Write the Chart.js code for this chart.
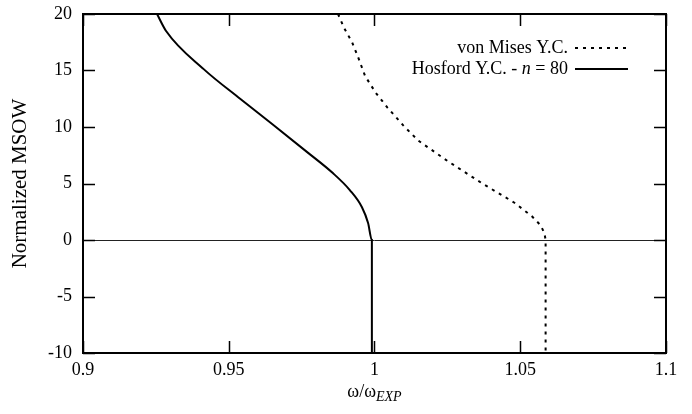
<!DOCTYPE html>
<html>
<head>
<meta charset="utf-8">
<script src="https://cdn.jsdelivr.net/npm/chart.js@4/dist/chart.umd.min.js"></script>
<style>
  html, body { margin: 0; padding: 0; background: #fff; }
  #wrap { width: 692px; height: 414px; }
</style>
</head>
<body>
<div id="wrap"><canvas id="mainChart" width="692" height="414"></canvas></div>
<script>
// data
const misesX = [0.9875, 0.9895, 0.9923, 0.9945, 0.9968, 1.0005, 1.0045, 1.0100, 1.0150, 1.0250, 1.0370, 1.0480, 1.0540, 1.0570, 1.0583, 1.0587, 1.0587];
const misesY = [20, 18.8, 17.5, 16.1, 14.5, 13.0, 11.7, 10.1, 8.8, 7.0, 5.0, 3.3, 2.1, 1.3, 0.6, 0, -10];
const hosfordX = [0.9254, 0.9285, 0.9415, 0.9539, 0.9652, 0.9768, 0.9858, 0.9916, 0.9957, 0.9978, 0.9991, 0.9991];
const hosfordY = [20, 18.5, 15.1, 12.5, 10.2, 7.8, 5.9, 4.4, 2.9, 1.5, 0, -10];
const xTicks = [0.9, 0.95, 1, 1.05, 1.1];
const yTicks = [-10, -5, 0, 5, 10, 15, 20];

const FONT = '"Liberation Serif", "Times New Roman", serif';

function toPoints(xs, ys) {
    return xs.map((x, i) => ({ x: x, y: ys[i] }));
}

// frame with inward ticks on all four sides (gnuplot look)
const framePlugin = {
    id: 'frame',
    afterDatasetsDraw(chart) {
        const { ctx, chartArea: a, scales } = chart;
        const len = 12;
        ctx.save();
        ctx.strokeStyle = '#000';
        ctx.lineWidth = 2;
        ctx.strokeRect(a.left, a.top, a.right - a.left, a.bottom - a.top);
        ctx.lineWidth = 1.5;
        ctx.beginPath();
        xTicks.forEach(v => {
            const px = Math.round(scales.x.getPixelForValue(v)) + 0.5;
            ctx.moveTo(px, a.bottom); ctx.lineTo(px, a.bottom - len);
            ctx.moveTo(px, a.top); ctx.lineTo(px, a.top + len);
        });
        yTicks.forEach(v => {
            const py = Math.round(scales.y.getPixelForValue(v)) + 0.5;
            ctx.moveTo(a.left, py); ctx.lineTo(a.left + len, py);
            ctx.moveTo(a.right, py); ctx.lineTo(a.right - len, py);
        });
        ctx.stroke();

        // x axis title with subscript
        const cx = (a.left + a.right) / 2;
        const ty = 397;
        ctx.fillStyle = '#000';
        ctx.textBaseline = 'alphabetic';
        const main = 'ω/ω';
        const sub = 'EXP';
        ctx.font = 'italic 14px ' + FONT;
        const subW = ctx.measureText(sub).width;
        ctx.font = '18px ' + FONT;
        const mainW = ctx.measureText(main).width;
        const x0 = cx - (mainW + subW) / 2;
        ctx.textAlign = 'left';
        ctx.fillText(main, x0, ty);
        ctx.font = 'italic 14px ' + FONT;
        ctx.fillText(sub, x0 + mainW, ty + 4);

        // key, top right
        const keyRight = 568;
        const sx0 = 575, sx1 = 628;
        const rows = [48, 69];
        chart.data.datasets.forEach((ds, i) => {
            const y = rows[i];
            ctx.textBaseline = 'middle';
            ctx.textAlign = 'right';
            const parts = ds.keyParts;
            let xr = keyRight;
            for (let k = parts.length - 1; k >= 0; k--) {
                ctx.font = (parts[k].italic ? 'italic ' : '') + '18px ' + FONT;
                ctx.fillText(parts[k].t, xr, y);
                xr -= ctx.measureText(parts[k].t).width;
            }
            ctx.beginPath();
            ctx.lineWidth = ds.borderWidth;
            ctx.setLineDash(ds.borderDash || []);
            ctx.moveTo(sx0, y); ctx.lineTo(sx1, y);
            ctx.stroke();
            ctx.setLineDash([]);
        });
        ctx.restore();
    }
};

const ctx = document.getElementById('mainChart').getContext('2d');
const mainChart = new Chart(ctx, {
    type: 'scatter',
    data: {
        datasets: [{
            label: 'von Mises Y.C.',
            keyParts: [{ t: 'von Mises Y.C.' }],
            data: toPoints(misesX, misesY),
            showLine: true,
            borderColor: '#000',
            borderWidth: 2,
            borderDash: [3, 5],
            pointRadius: 0,
            tension: 0
        }, {
            label: 'Hosford Y.C. - n = 80',
            keyParts: [{ t: 'Hosford Y.C. - ' }, { t: 'n', italic: true }, { t: ' = 80' }],
            data: toPoints(hosfordX, hosfordY),
            showLine: true,
            borderColor: '#000',
            borderWidth: 2,
            pointRadius: 0,
            cubicInterpolationMode: 'monotone'
        }]
    },
    options: {
        responsive: false,
        animation: false,
        layout: { padding: { top: 14, right: 26, left: 0, bottom: 0 } },
        plugins: {
            legend: { display: false },
            tooltip: { enabled: false }
        },
        scales: {
            x: {
                type: 'linear',
                min: 0.9,
                max: 1.1,
                afterBuildTicks: s => { s.ticks = xTicks.map(v => ({ value: v })); },
                afterFit: s => { s.height = 61; s.paddingLeft = 0; s.paddingRight = 0; },
                grid: { display: false, drawTicks: false },
                border: { display: false },
                ticks: {
                    color: '#000',
                    padding: 6,
                    maxRotation: 0,
                    font: { family: FONT, size: 18 },
                    callback: v => String(v)
                }
            },
            y: {
                type: 'linear',
                min: -10,
                max: 20,
                afterBuildTicks: s => { s.ticks = yTicks.map(v => ({ value: v })); },
                afterFit: s => { s.width = 83; s.paddingTop = 0; s.paddingBottom = 0; },
                grid: {
                    drawTicks: false,
                    lineWidth: 1,
                    color: c => (c.tick && c.tick.value === 0) ? '#222' : 'rgba(0,0,0,0)'
                },
                border: { display: false },
                ticks: {
                    color: '#000',
                    padding: 11,
                    font: { family: FONT, size: 18 },
                    callback: v => String(v)
                },
                title: {
                    display: true,
                    text: 'Normalized MSOW',
                    color: '#000',
                    padding: { top: 8, bottom: 0 },
                    font: { family: FONT, size: 21 }
                }
            }
        }
    },
    plugins: [framePlugin]
});
window.mainChart = mainChart;
</script>
</body>
</html>
